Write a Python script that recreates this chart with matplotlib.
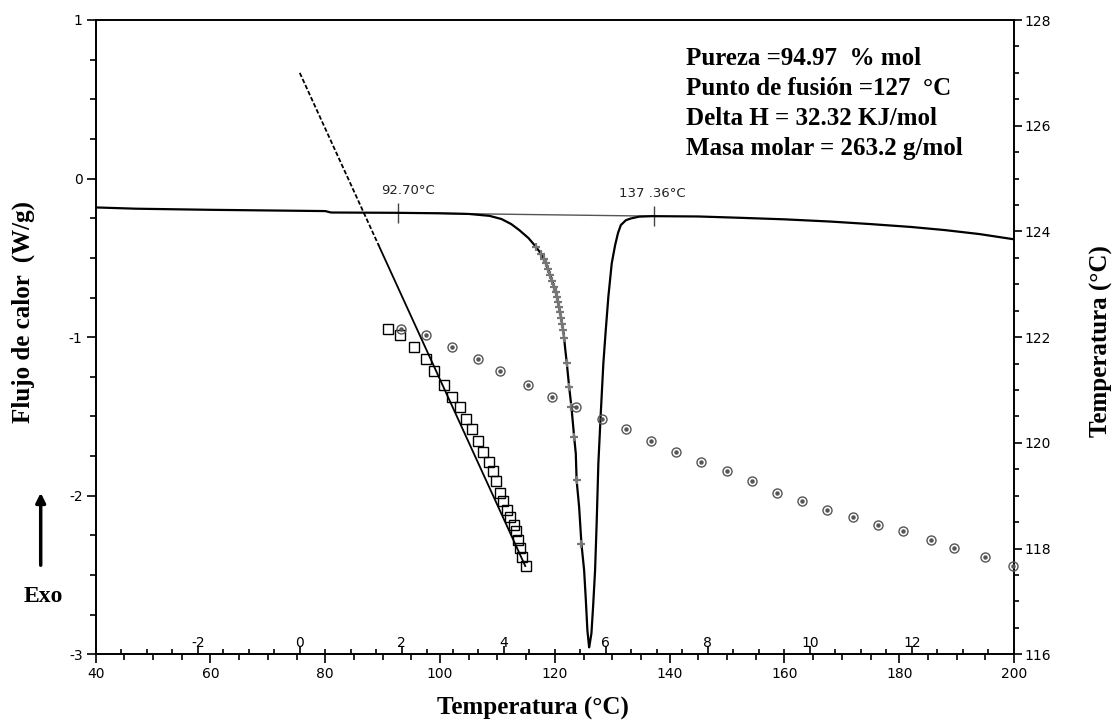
import matplotlib
matplotlib.use("Agg")
import matplotlib.pyplot as plt
from matplotlib.ticker import MultipleLocator, FixedLocator

plt.rcParams["axes.unicode_minus"] = False
plt.rcParams["font.family"] = ["DejaVu Sans"]

# ---------------- data ----------------
# DSC heat-flow curve (Temperatura degC, Flujo de calor W/g)
dsc_T = [40.0, 47.0, 60.0, 80.0, 81.0, 92.7, 100.0, 105.0, 108.6, 110.7, 112.4, 113.8,
         115.4, 116.70, 117.62, 118.05, 118.43, 118.83, 119.18, 119.53, 119.88, 120.14,
         120.40, 120.57, 120.75, 120.92, 121.10, 121.27, 121.44, 121.62, 121.79, 122.09,
         122.49, 122.89, 123.10, 123.36, 123.65, 123.79, 124.23, 124.63, 125.10, 125.40,
         125.67, 125.97, 126.09, 126.37, 126.66, 127.01, 127.30, 127.58, 128.00, 128.45,
         128.87, 129.32, 129.91, 130.5, 131.0, 131.5, 132.4, 133.3, 134.7, 137.0, 145.0,
         152.0, 160.0, 168.0, 175.0, 182.0, 188.0, 194.0, 200.0]
dsc_v = [-0.182, -0.190, -0.197, -0.205, -0.214, -0.216, -0.219, -0.223, -0.235, -0.255,
         -0.287, -0.325, -0.375, -0.430, -0.476, -0.505, -0.535, -0.571, -0.609, -0.647,
         -0.683, -0.716, -0.748, -0.779, -0.809, -0.842, -0.880, -0.918, -0.956, -1.006,
         -1.069, -1.166, -1.314, -1.440, -1.524, -1.629, -1.734, -1.902, -2.071, -2.302,
         -2.470, -2.659, -2.849, -2.956, -2.932, -2.869, -2.702, -2.470, -2.155, -1.797,
         -1.481, -1.166, -0.956, -0.746, -0.535, -0.420, -0.344, -0.293, -0.262, -0.251,
         -0.240, -0.237, -0.239, -0.247, -0.257, -0.271, -0.287, -0.305, -0.325, -0.350,
         -0.383]

# partial-area points on the leading edge of the peak
pa_T = [116.70, 117.62, 118.05, 118.43, 118.83, 119.18, 119.53, 119.88, 120.14, 120.40,
        120.57, 120.75, 120.92, 121.10, 121.27, 121.44, 121.62, 122.09, 122.49, 122.89,
        123.36, 123.79, 124.63]
pa_v = [-0.430, -0.476, -0.505, -0.535, -0.571, -0.609, -0.647, -0.683, -0.716, -0.748,
        -0.779, -0.809, -0.842, -0.880, -0.918, -0.956, -1.006, -1.166, -1.314, -1.440,
        -1.629, -1.902, -2.302]

# integration baseline limits
base_T = [92.70, 137.36]
base_v = [-0.216, -0.237]
base_labels = ["92.70°C", "137 .36°C"]

# purity plot: 1/F (inner axis) vs sample temperature (right axis)
sq_u = [1.73, 1.97, 2.23, 2.47, 2.63, 2.82, 2.99, 3.14, 3.26, 3.38, 3.50, 3.60, 3.71,
        3.78, 3.84, 3.93, 3.99, 4.06, 4.12, 4.19, 4.24, 4.28, 4.32, 4.35, 4.44]
sq_T = [122.15, 122.04, 121.81, 121.58, 121.36, 121.09, 120.86, 120.68, 120.45, 120.26,
        120.03, 119.82, 119.63, 119.46, 119.27, 119.06, 118.90, 118.73, 118.59, 118.44,
        118.33, 118.16, 118.01, 117.84, 117.67]
circ_u = [1.99, 2.48, 2.99, 3.50, 3.93, 4.48, 4.95, 5.42, 5.93, 6.40, 6.89, 7.38, 7.87,
          8.38, 8.87, 9.36, 9.85, 10.34, 10.85, 11.34, 11.83, 12.38, 12.83, 13.44, 13.99]
circ_T = sq_T
fit_u = [0.0, 1.55, 4.42]
fit_T = [127.0, 123.73, 117.67]

main_xticks = [40, 60, 80, 100, 120, 140, 160, 180, 200]
inner_xticks = [-2, 0, 2, 4, 6, 8, 10, 12]
left_yticks = [-3, -2, -1, 0, 1]
right_yticks = [116, 118, 120, 122, 124, 126, 128]

info_lines = ["Pureza =94.97  % mol", "Punto de fusión =127  °C",
              "Delta H = 32.32 KJ/mol", "Masa molar = 263.2 g/mol"]

# ---------------- figure ----------------
W, H = 1119, 723
fig = plt.figure(figsize=(W / 100, H / 100), dpi=100)
pos = [95.7 / W, 1 - 654.3 / H, (1014 - 95.7) / W, (654.3 - 20) / H]

ax = fig.add_axes(pos)
ax.set_xlim(40, 200)
ax.set_ylim(-3, 1)
for s in ax.spines.values():
    s.set_linewidth(1.4)
ax.xaxis.set_major_locator(FixedLocator(main_xticks))
ax.xaxis.set_minor_locator(MultipleLocator(5))
ax.yaxis.set_major_locator(FixedLocator(left_yticks))
ax.yaxis.set_minor_locator(MultipleLocator(0.25))
ax.tick_params(which="major", direction="out", length=6.5, width=1.2, labelsize=10, pad=3)
ax.tick_params(which="minor", direction="out", length=4, width=1.2)
ax.tick_params(top=False, right=False, which="both")

ax.plot(dsc_T, dsc_v, color="black", lw=1.6, zorder=3)
ax.plot(pa_T, pa_v, ls="none", marker="+", ms=6, mew=1.6, color="#777777", zorder=4)
ax.plot(base_T, base_v, color="#555555", lw=1.0, zorder=2)
ax.plot(base_T, base_v, ls="none", marker="|", ms=14, mew=1.0, color="#444444", zorder=2)
offsets = [(7, 16), (-1.5, 16)]
for t, v, lab, off in zip(base_T, base_v, base_labels, offsets):
    ax.annotate(lab, (t, v), xytext=off, textcoords="offset points",
                ha="center", va="center", fontsize=9.5, color="#222222")

ax2 = fig.add_axes(pos, frameon=False, label="purity")
ax2.set_xlim(-4, 14)
ax2.set_ylim(116, 128)
ax2.yaxis.tick_right()
ax2.xaxis.set_major_locator(FixedLocator(inner_xticks))
ax2.xaxis.set_minor_locator(MultipleLocator(0.5))
ax2.yaxis.set_major_locator(FixedLocator(right_yticks))
ax2.yaxis.set_minor_locator(MultipleLocator(0.5))
ax2.tick_params(axis="x", which="major", direction="in", length=6, width=1.2, pad=-13, labelsize=10)
ax2.tick_params(axis="x", which="minor", direction="in", length=3.5, width=1.2)
ax2.tick_params(axis="y", which="major", direction="out", length=5.5, width=1.2, pad=2, labelsize=10)
ax2.tick_params(axis="y", which="minor", direction="out", length=3.5, width=1.2)

ax2.plot(fit_u[:2], fit_T[:2], color="black", lw=1.3, dashes=(2.5, 1.2))
ax2.plot(fit_u[1:], fit_T[1:], color="black", lw=1.3)
ax2.plot(sq_u, sq_T, ls="none", marker="s", ms=7.5, mfc="none", mec="black", mew=1.0)
ax2.plot(circ_u, circ_T, ls="none", marker="o", ms=6.5, mfc="none", mec="#555555",
         mew=1.0, clip_on=False)
ax2.plot(circ_u, circ_T, ls="none", marker="o", ms=2.2, mfc="#555555", mec="#555555",
         clip_on=False)

serif = ["Liberation Serif", "DejaVu Serif"]
fig.text(533 / W, 1 - 708 / H, "Temperatura (°C)", ha="center", va="center",
         family=serif, weight="bold", size=18)
fig.text(23 / W, 1 - 312 / H, "Flujo de calor  (W/g)", ha="center", va="center",
         rotation=90, family=serif, weight="bold", size=18)
fig.text(1101 / W, 1 - 341 / H, "Temperatura (°C)", ha="center", va="center",
         rotation=90, family=serif, weight="bold", size=18)
fig.text(43 / W, 1 - 597 / H, "Exo", ha="center", va="center",
         family=serif, weight="bold", size=17)
fig.add_artist(matplotlib.patches.FancyArrowPatch(
    (40.7 / W, 1 - 568 / H), (40.7 / W, 1 - 490 / H), transform=fig.transFigure,
    arrowstyle="-|>", mutation_scale=14, lw=2.5, color="black"))

for i, line in enumerate(info_lines):
    fig.text(686 / W, 1 - (65 + 30 * i) / H, line, ha="left", va="baseline",
             family=serif, weight="bold", size=18)

fig.savefig("out.png", dpi=100)
